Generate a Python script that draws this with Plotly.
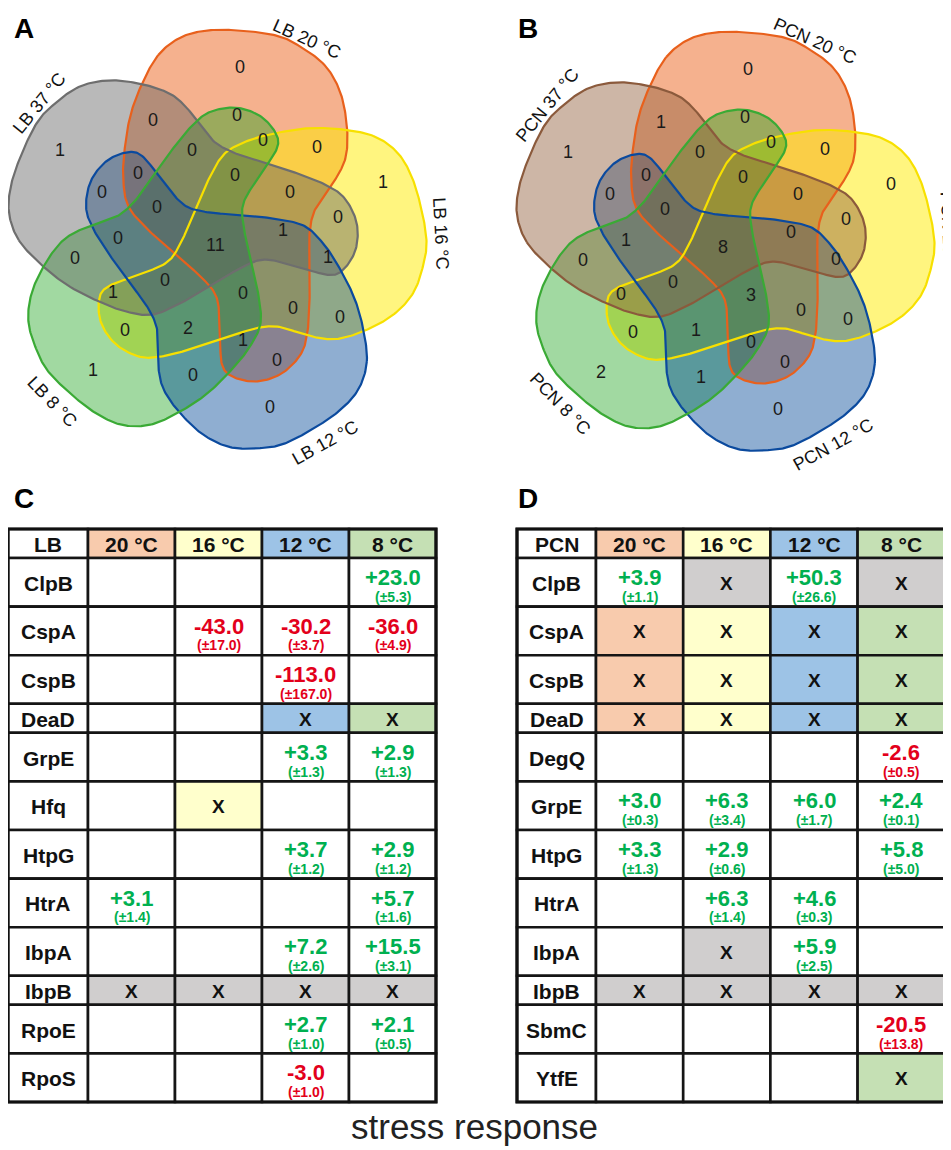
import numpy as np
import plotly.graph_objects as go

W, H = 951, 1150
PAGE_MARGIN = 8  # default body margin of the html page

# ---------------- Venn data ----------------
SETS_A = ["LB 20 °C", "LB 16 °C", "LB 12 °C", "LB 8 °C", "LB 37 °C"]
SETS_B = ["PCN 20 °C", "PCN 16 °C", "PCN 12 °C", "PCN 8 °C", "PCN 37 °C"]
# counts of the 31 regions (same region order for both diagrams)
COUNTS_A = [0, 0, 1, 0, 0, 0, 1, 0, 0, 0, 0, 0, 0, 0, 11, 0, 0, 1, 1, 1,
            0, 0, 0, 0, 0, 2, 1, 0, 1, 0, 0]
COUNTS_B = [0, 1, 1, 0, 0, 0, 0, 0, 0, 0, 0, 0, 0, 0, 8, 1, 0, 0, 0, 0,
            0, 3, 0, 0, 0, 1, 0, 0, 2, 1, 0]

# ---------------- Table data ----------------
CONDITIONS = ["20 °C", "16 °C", "12 °C", "8 °C"]
LB_PROTEINS = ["ClpB", "CspA", "CspB", "DeaD", "GrpE", "Hfq", "HtpG", "HtrA",
               "IbpA", "IbpB", "RpoE", "RpoS"]
LB_CELLS = [
    [None, None, None, (23.0, 5.3)],
    [None, (-43.0, 17.0), (-30.2, 3.7), (-36.0, 4.9)],
    [None, None, (-113.0, 167.0), None],
    [None, None, "X", "X"],
    [None, None, (3.3, 1.3), (2.9, 1.3)],
    [None, "X", None, None],
    [None, None, (3.7, 1.2), (2.9, 1.2)],
    [(3.1, 1.4), None, None, (5.7, 1.6)],
    [None, None, (7.2, 2.6), (15.5, 3.1)],
    ["Xg", "Xg", "Xg", "Xg"],
    [None, None, (2.7, 1.0), (2.1, 0.5)],
    [None, None, (-3.0, 1.0), None],
]
PCN_PROTEINS = ["ClpB", "CspA", "CspB", "DeaD", "DegQ", "GrpE", "HtpG", "HtrA",
                "IbpA", "IbpB", "SbmC", "YtfE"]
PCN_CELLS = [
    [(3.9, 1.1), "Xg", (50.3, 26.6), "Xg"],
    ["X", "X", "X", "X"],
    ["X", "X", "X", "X"],
    ["X", "X", "X", "X"],
    [None, None, None, (-2.6, 0.5)],
    [(3.0, 0.3), (6.3, 3.4), (6.0, 1.7), (2.4, 0.1)],
    [(3.3, 1.3), (2.9, 0.6), None, (5.8, 5.0)],
    [None, (6.3, 1.4), (4.6, 0.3), None],
    [None, "Xg", (5.9, 2.5), None],
    ["Xg", "Xg", "Xg", "Xg"],
    [None, None, None, (-20.5, 13.8)],
    [None, None, None, "X"],
]

# ---------------- Layout / style constants ----------------
FONT = "Liberation Sans, Arial, sans-serif"
BASE_SHAPE = [(-58, 195), (-35, 213), (-8, 220), (25, 220), (62, 215), (85, 205),
              (112, 185), (128, 158), (135, 125), (135, 95), (128, 75), (115, 55),
              (102, 35), (97, 12), (97, -22), (97, -55), (95, -88), (88, -112),
              (68, -132), (42, -140), (18, -135), (7, -122), (5, -88), (2, -55),
              (-12, -35), (-38, -12), (-65, 12), (-88, 38), (-94, 65), (-93, 95),
              (-87, 132), (-75, 165)]
SHAPE_SCALE = [0.975, 0.945, 0.94, 0.935, 0.965]
REGION_POS = [(25, 178), (-62, 125), (-155, 95), (22, 130), (48, 105), (102, 98),
              (168, 63), (123, 28), (75, 53), (-23, 95), (20, 70), (-77, 72),
              (-113, 53), (-58, 38), (0, 0), (-97, 7), (-140, -13), (68, 15),
              (113, -12), (-102, -47), (-50, -35), (28, -48), (78, -63),
              (125, -72), (-90, -85), (-27, -83), (28, -95), (62, -115),
              (-122, -125), (-22, -130), (55, -162)]
LABEL_ANGLES = [66, 3, -61, -136, 141]
LABEL_R = 226

FILLS = ["rgba(235,100,30,0.5)", "rgba(255,235,0,0.5)", "rgba(0,70,150,0.44)",
         "rgba(20,160,20,0.4)", "rgba(95,95,95,0.44)"]
LINES = ["#E8601C", "#F7E000", "#0B4A9E", "#3AAA35", "#6E6E6E"]
FILL_37_B = "rgba(145,95,60,0.46)"
LINE_37_B = "#8B5A3C"
FILL_ORDER = [0, 1, 3, 2, 4]
LINE_ORDER = [0, 1, 4, 2, 3]

COND_COLORS = ["#F8CBAD", "#FFFFCC", "#9DC3E6", "#C5E0B4"]
GRAY_CELL = "#D0CECE"
GREEN_TXT = "#00B050"
RED_TXT = "#E3001B"
SHORT_ROWS = {"DeaD", "IbpB"}
HEADER_H, TALL_H, SHORT_H = 29, 48.6, 29


def closed_spline(pts, n=16):
    P = np.array(pts, dtype=float)
    N = len(P)
    t = np.linspace(0, 1, n, endpoint=False)[:, None]
    segs = []
    for i in range(N):
        p0, p1, p2, p3 = P[(i - 1) % N], P[i], P[(i + 1) % N], P[(i + 2) % N]
        segs.append(0.5 * (2 * p1 + (-p0 + p2) * t + (2 * p0 - 5 * p1 + 4 * p2 - p3) * t ** 2
                           + (-p0 + 3 * p1 - 3 * p2 + p3) * t ** 3))
    out = np.vstack(segs)
    return np.vstack([out, out[:1]])


def rot(xy, deg):
    a = np.deg2rad(deg)
    c, s = np.cos(a), np.sin(a)
    x, y = xy[:, 0], xy[:, 1]
    return np.column_stack([x * c - y * s, x * s + y * c])


fig = go.Figure()
annotations = []
shapes = []

base_curve = closed_spline(BASE_SHAPE)


def venn(cx, cy, names, counts, fills, lines):
    curves = [rot(base_curve * SHAPE_SCALE[k], -72 * k) for k in range(5)]
    for k in FILL_ORDER:
        pts = curves[k]
        fig.add_trace(go.Scatter(
            x=cx + pts[:, 0], y=cy - pts[:, 1], mode="none", fill="toself",
            fillcolor=fills[k], hoverinfo="skip", showlegend=False))
    for k in LINE_ORDER:
        pts = curves[k]
        fig.add_trace(go.Scatter(
            x=cx + pts[:, 0], y=cy - pts[:, 1], mode="lines",
            line=dict(color=lines[k], width=2.2),
            hoverinfo="skip", showlegend=False))
    for (dx, dy), c in zip(REGION_POS, counts):
        annotations.append(dict(x=cx + dx, y=cy - dy, text=str(c), showarrow=False,
                                font=dict(family=FONT, size=18, color="#1a1a1a"),
                                xref="x", yref="y"))
    for name, ang in zip(names, LABEL_ANGLES):
        a = np.deg2rad(ang)
        ta = 90 - ang
        if ta > 95:
            ta -= 180
        elif ta < -90:
            ta += 180
        annotations.append(dict(x=cx + LABEL_R * np.cos(a), y=cy - LABEL_R * np.sin(a),
                                text=name, showarrow=False, textangle=ta,
                                font=dict(family=FONT, size=18, color="#111"),
                                xref="x", yref="y"))


venn(215, 245, SETS_A, COUNTS_A, FILLS, LINES)
venn(723, 247, SETS_B, COUNTS_B, FILLS[:4] + [FILL_37_B], LINES[:4] + [LINE_37_B])


def table(x0, y0, first_w, col_w, corner, proteins, cells):
    xs = [x0, x0 + first_w] + [x0 + first_w + col_w * (i + 1) for i in range(len(CONDITIONS))]
    heights = [HEADER_H] + [SHORT_H if p in SHORT_ROWS else TALL_H for p in proteins]
    ys = [y0]
    for h in heights:
        ys.append(ys[-1] + h)
    rows = [[corner] + CONDITIONS] + [[p] + c for p, c in zip(proteins, cells)]
    for r, row in enumerate(rows):
        top, bot = ys[r], ys[r + 1]
        h = bot - top
        for j, cell in enumerate(row):
            left, right = xs[j], xs[j + 1]
            xm = (left + right) / 2
            fill = "white"
            if r == 0 and j > 0:
                fill = COND_COLORS[j - 1]
            elif r > 0 and j > 0 and cell == "X":
                fill = COND_COLORS[j - 1]
            elif r > 0 and j > 0 and cell == "Xg":
                fill = GRAY_CELL
            shapes.append(dict(type="rect", xref="x", yref="y", x0=left, x1=right,
                               y0=top, y1=bot, fillcolor=fill,
                               line=dict(color="#151515", width=2.6), layer="above"))
            if r == 0 or j == 0:
                annotations.append(dict(x=xm, y=(top + bot) / 2 + 1, text="<b>%s</b>" % cell,
                                        showarrow=False, xref="x", yref="y",
                                        font=dict(family=FONT, size=21, color="#111")))
            elif cell in ("X", "Xg"):
                annotations.append(dict(x=xm, y=(top + bot) / 2 + 1, text="<b>X</b>",
                                        showarrow=False, xref="x", yref="y",
                                        font=dict(family=FONT, size=19, color="#111")))
            elif cell is not None:
                v, sd = cell
                col = GREEN_TXT if v > 0 else RED_TXT
                annotations.append(dict(x=xm, y=top + 0.40 * h, text="<b>%+.1f</b>" % v,
                                        showarrow=False, xref="x", yref="y",
                                        font=dict(family=FONT, size=22, color=col)))
                annotations.append(dict(x=xm, y=top + 0.80 * h, text="<b>(±%.1f)</b>" % sd,
                                        showarrow=False, xref="x", yref="y",
                                        font=dict(family=FONT, size=14, color=col)))
    shapes.append(dict(type="rect", xref="x", yref="y", x0=xs[0], x1=xs[-1], y0=ys[0],
                       y1=ys[-1], line=dict(color="#111", width=3.2), layer="above"))


table(8, 529, 80, 87, "LB", LB_PROTEINS, LB_CELLS)
table(517, 529, 79, 87.2, "PCN", PCN_PROTEINS, PCN_CELLS)

for letter, x, y in [("A", 24, 28), ("B", 528, 28), ("C", 24, 498), ("D", 528, 498)]:
    annotations.append(dict(x=x, y=y, text="<b>%s</b>" % letter, showarrow=False,
                            xref="x", yref="y", font=dict(family=FONT, size=28, color="#000")))

annotations.append(dict(x=474, y=1126, text="stress response", showarrow=False,
                        xref="x", yref="y", font=dict(family=FONT, size=35, color="#222")))

fig.update_layout(
    width=W - PAGE_MARGIN, height=H - PAGE_MARGIN, margin=dict(l=0, r=0, t=0, b=0),
    paper_bgcolor="white", plot_bgcolor="white",
    xaxis=dict(range=[PAGE_MARGIN, W], visible=False, fixedrange=True, domain=[0, 1]),
    yaxis=dict(range=[H, PAGE_MARGIN], visible=False, fixedrange=True, domain=[0, 1]),
    shapes=shapes, annotations=annotations, hovermode=False,
)
fig.write_html("out.html")
